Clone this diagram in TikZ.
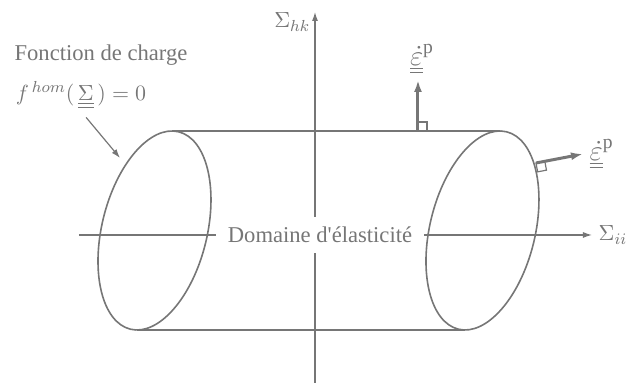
\documentclass[tikz,border=0pt]{standalone}
\usepackage{fontspec}
\setmainfont{Liberation Serif}[Ligatures=TeXOff]
\usepackage{tikz}
\usetikzlibrary{positioning,arrows.meta,calc}
\definecolor{lngray}{HTML}{767676}

\begin{document}
\begin{tikzpicture}[x=0.5pt,y=0.5pt,
		color=lngray, line width=0.75pt,
		axis/.style={-{Latex[length=4.5pt,width=3pt]}, line width=0.6pt},
		normal/.style={-{Latex[length=6pt,width=4pt]}, line width=1.5pt},
		face/.style={line width=0.8pt},
		lbl/.style={font=\fontsize{11.3}{13}\selectfont, inner sep=1pt},
		epslbl/.style={font=\fontsize{14}{16}\selectfont, inner sep=1pt}
		]
		\useasboundingbox (0,0) rectangle (629,383);
		% axes
		\coordinate (xO) at (79,148);
		\coordinate (xE) at (592,148);
		\coordinate (yO) at (315,0);
		\coordinate (yE) at (315,371);
		\draw[axis] (xO) -- (xE);
		\draw[axis] (yO) -- (yE);
		\node[lbl, right=2pt of xE] (sii) {$\Sigma_{ii}$};
		\node[lbl, anchor=east] (shk) at (313,361) {$\Sigma_{hk}$};
		\node[lbl, fill=white, inner xsep=6pt, inner ysep=5pt] (dom) at (320,148) {Domaine d'élasticité};
		% cylinder
		\coordinate (cL) at (154.5,152.5);
		\coordinate (cR) at (482.5,152.5);
		\foreach \c in {cL,cR}
			\draw[face, rotate around={-13.7:(\c)}] (\c) ellipse [x radius=52.6, y radius=101.6];
		\path (cL) ++(17.5,99.5) coordinate (tL) (cL) ++(-17.5,-99.5) coordinate (bL);
		\path (cR) ++(17.5,99.5) coordinate (tR) (cR) ++(-17.5,-99.5) coordinate (bR);
		\draw[face] (tL) -- (tR);
		\draw[face] (bL) -- (bR);
		% normals
		\coordinate (nT) at (418,252);
		\coordinate (nTe) at (418,303);
		\draw[normal] (nT) -- (nTe);
		\draw[line width=0.6pt] (nT) rectangle ++(9,9);
		\node[epslbl, above=2pt of nTe, xshift=2pt] (epsT) {$\underline{\underline{\dot{\varepsilon}}}^{\mathrm{p}}$};
		\path (cR) ++(53.5,67.5) coordinate (nR);
		\path (nR) ++(47,9) coordinate (nRe);
		\draw[normal] (nR) -- (nRe);
		\draw[line width=0.6pt, rotate around={10.8:(nR)}] (nR) rectangle ++(9,-9);
		\node[epslbl, right=2pt of nRe] (epsR) {$\underline{\underline{\dot{\varepsilon}}}^{\mathrm{p}}$};
		% load function
		\node[lbl] (fct) at (101,328) {Fonction de charge};
		\node[lbl] (fhom) at (81,288) {$f^{\,hom}(\,\underline{\underline{\Sigma}}\,) = 0$};
		\coordinate (tipL) at (120,225);
		\draw[-{Latex[length=4.5pt,width=3pt]}, line width=0.6pt, shorten <=4pt] (fhom.south) -- (tipL);
	\end{tikzpicture}
\end{document}
